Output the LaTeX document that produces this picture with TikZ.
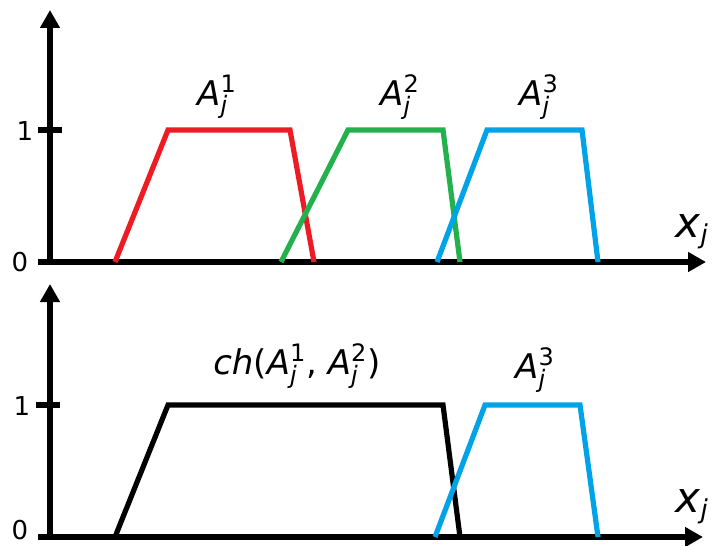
\documentclass[tikz,border=0pt]{standalone}
\usepackage{fontspec}
\setmainfont{DejaVu Sans}
\usetikzlibrary{arrows.meta}
\newcommand{\memb}[2]{\textit{A}$^{\mbox{\fontsize{12}{12}\selectfont #1}}_{\mbox{\fontsize{12}{12}\selectfont\textit{#2}}}$}
\begin{document}
\begin{tikzpicture}
[x=0.5pt,y=-0.5pt,
 axis/.style={line width=3pt,-{Triangle[length=9pt,width=9.5pt]}},
 tick/.style={line width=3pt},
 curve/.style={line width=2.6pt,line join=miter},
 ticklab/.style={font=\fontsize{13}{13}\selectfont},
 setlab/.style={font=\fontsize{17}{17}\selectfont},
 varlab/.style={font=\fontsize{21}{21}\selectfont}]
\definecolor{fred}{RGB}{237,28,36}
\definecolor{fgreen}{RGB}{34,177,76}
\definecolor{fblue}{RGB}{0,162,232}
\useasboundingbox (0,0) rectangle (715,545);
% upper panel
\draw[axis] (50,264)--(50,10) ; 
\draw[axis] (38,262)--(706,262) ; 
\draw[tick] (38,130)--(62,130) ; 
\node[ticklab] (one1) at (25,131) {1};
\node[ticklab] (zero1) at (20,262) {0};
\node[varlab] (xj1) at (692,232) {\textit{x}$_{\mbox{\fontsize{13}{13}\selectfont\textit{j}}}$};
\draw[curve,fred] (115,262)--(168,130)--(290,130)--(314,262) ;
\draw[curve,fgreen] (281,262)--(348,130)--(443,130)--(460,262) ;
\draw[curve,fblue] (437,262)--(487,130)--(582,130)--(598,262) ;
\node[setlab] (a1) at (217,97) {\memb{1}{j}};
\node[setlab] (a2) at (400,97) {\memb{2}{j}};
\node[setlab] (a3) at (539,97) {\memb{3}{j}};
% lower panel
\draw[axis] (50,539)--(50,284) ; 
\draw[axis] (38,537)--(703,537) ; 
\draw[tick] (36,405)--(60,405) ; 
\node[ticklab] (one2) at (22,406) {1};
\node[ticklab] (zero2) at (20,530) {0};
\node[varlab] (xj2) at (692,507) {\textit{x}$_{\mbox{\fontsize{13}{13}\selectfont\textit{j}}}$};
\draw[curve,black] (115,537)--(168,405)--(443,405)--(460,537) ;
\draw[curve,fblue] (435,537)--(485,405)--(580,405)--(598,537) ;
\node[setlab] (ch) at (297,366) {\textit{ch}(\memb{1}{j}, \memb{2}{j})};
\node[setlab] (a3b) at (535,370) {\memb{3}{j}};
\end{tikzpicture}
\end{document}
